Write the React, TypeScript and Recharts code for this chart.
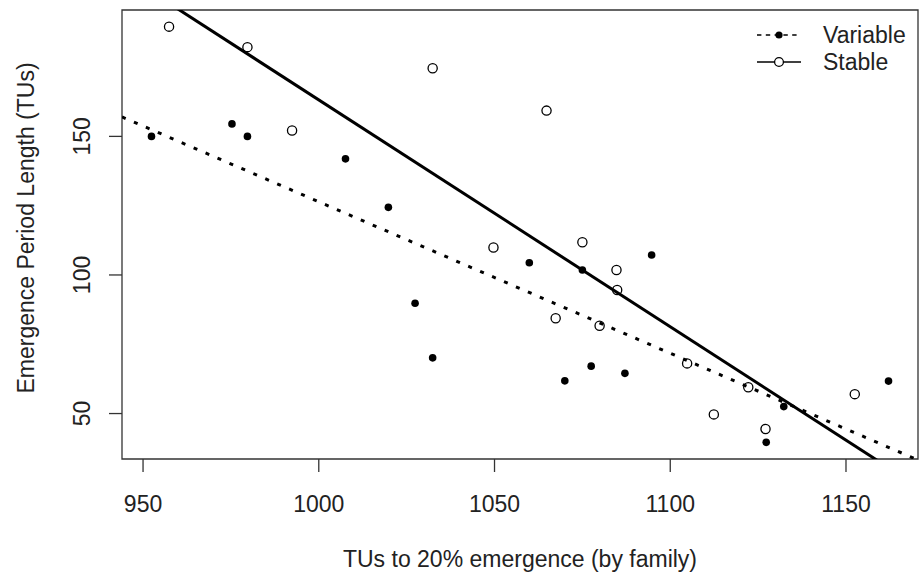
import React from "react";
import { ScatterChart, Scatter, XAxis, YAxis, ReferenceLine, ReferenceArea, Legend, Label } from "recharts";

// TUs to 20% emergence and emergence period length, one point per family
const variableTUs = [952.4, 975.3, 979.7, 1007.6, 1019.8, 1027.4, 1032.4, 1059.9, 1070.0, 1075.0, 1077.5, 1087.1, 1094.7, 1127.3, 1132.3, 1162.1];
const variableLength = [150.0, 154.5, 150.0, 141.9, 124.4, 89.8, 70.1, 104.4, 61.8, 101.8, 67.1, 64.5, 107.2, 39.6, 52.5, 61.7];

const stableTUs = [957.4, 979.7, 992.4, 1032.4, 1049.7, 1064.8, 1067.4, 1075.0, 1079.9, 1084.7, 1084.9, 1104.8, 1112.4, 1122.2, 1127.1, 1152.5];
const stableLength = [189.6, 182.2, 152.1, 174.6, 109.9, 159.3, 84.4, 111.8, 81.7, 101.8, 94.6, 68.1, 49.7, 59.5, 44.4, 57.0];

const seriesNames = ["Variable", "Stable"];
const xTicks = [950, 1000, 1050, 1100, 1150];
const yTicks = [50, 100, 150];

const FONT = "'Liberation Sans', Arial, Helvetica, sans-serif";
const TEXT = "#222";
const FS = 23;

const toPoints = (xs: number[], ys: number[]) => xs.map((x, i) => ({ x, y: ys[i] }));

// ordinary least squares, like abline(lm(y ~ x))
const fit = (xs: number[], ys: number[]) => {
  const n = xs.length;
  const mx = xs.reduce((s, v) => s + v, 0) / n;
  const my = ys.reduce((s, v) => s + v, 0) / n;
  let sxy = 0;
  let sxx = 0;
  xs.forEach((x, i) => {
    sxy += (x - mx) * (ys[i] - my);
    sxx += (x - mx) * (x - mx);
  });
  const b = sxy / sxx;
  return { a: my - b * mx, b };
};

// base graphics pads the data range by 4% on each side
const padRange = (vals: number[]): [number, number] => {
  const lo = Math.min(...vals);
  const hi = Math.max(...vals);
  const d = (hi - lo) * 0.04;
  return [lo - d, hi + d];
};

const variableData = toPoints(variableTUs, variableLength);
const stableData = toPoints(stableTUs, stableLength);
const xDomain = padRange([...variableTUs, ...stableTUs]);
const yDomain = padRange([...variableLength, ...stableLength]);

const fitSegment = (xs: number[], ys: number[]) => {
  const { a, b } = fit(xs, ys);
  return [
    { x: xDomain[0], y: a + b * xDomain[0] },
    { x: xDomain[1], y: a + b * xDomain[1] },
  ];
};

const FilledDot = (props: any) => <circle cx={props.cx} cy={props.cy} r={3.8} fill="#000" />;
const OpenDot = (props: any) => (
  <circle cx={props.cx} cy={props.cy} r={4.6} fill="none" stroke="#000" strokeWidth={1.3} />
);

const XTick = (props: any) => (
  <text x={props.x} y={511.5} textAnchor="middle" fontSize={FS} fontFamily={FONT} fill={TEXT}>
    {props.payload.value}
  </text>
);

const YTick = (props: any) => (
  <text
    x={90}
    y={props.y}
    transform={`rotate(-90 90 ${props.y})`}
    textAnchor="middle"
    fontSize={FS}
    fontFamily={FONT}
    fill={TEXT}
  >
    {props.payload.value}
  </text>
);

const renderLegend = () => (
  <svg width={170} height={60}>
    <line x1={5} x2={49} y1={17} y2={17} stroke="#000" strokeWidth={1.6} strokeDasharray="4.4 4.4" />
    <circle cx={27} cy={17} r={3.6} fill="#000" />
    <text x={71} y={25.3} fontSize={FS} fontFamily={FONT} fill={TEXT}>
      {seriesNames[0]}
    </text>
    <line x1={5} x2={49} y1={44} y2={44} stroke="#000" strokeWidth={1.6} />
    <circle cx={27} cy={44} r={4.4} fill="#fff" stroke="#000" strokeWidth={1.3} />
    <text x={71} y={51.5} fontSize={FS} fontFamily={FONT} fill={TEXT}>
      {seriesNames[1]}
    </text>
  </svg>
);

export default function App() {
  return (
    <div style={{ position: "absolute", left: 0, top: 0, width: 920, height: 577, background: "#fff" }}>
      <ScatterChart width={920} height={577} margin={{ top: 10, right: 2, bottom: 0, left: 0 }}>
        <XAxis
          type="number"
          dataKey="x"
          domain={xDomain}
          ticks={xTicks}
          axisLine={false}
          tickLine={{ stroke: "#333", strokeWidth: 1.3 }}
          tickSize={13}
          tick={<XTick />}
          height={118}
        >
          <Label
            content={() => (
              <text x={520} y={567} textAnchor="middle" fontSize={FS} fontFamily={FONT} fill={TEXT}>
                TUs to 20% emergence (by family)
              </text>
            )}
          />
        </XAxis>
        <YAxis
          type="number"
          dataKey="y"
          domain={yDomain}
          ticks={yTicks}
          axisLine={false}
          tickLine={{ stroke: "#333", strokeWidth: 1.3 }}
          tickSize={13}
          tick={<YTick />}
          width={122}
        >
          <Label
            content={() => (
              <text
                x={33.5}
                y={228}
                transform="rotate(-90 33.5 228)"
                textAnchor="middle"
                fontSize={FS}
                fontFamily={FONT}
                fill={TEXT}
              >
                Emergence Period Length (TUs)
              </text>
            )}
          />
        </YAxis>
        <Scatter name={seriesNames[0]} data={variableData} shape={<FilledDot />} isAnimationActive={false} />
        <Scatter name={seriesNames[1]} data={stableData} shape={<OpenDot />} isAnimationActive={false} />
        <ReferenceLine
          segment={fitSegment(variableTUs, variableLength)}
          stroke="#000"
          strokeWidth={3}
          strokeDasharray="4 9"
          ifOverflow="hidden"
        />
        <ReferenceLine
          segment={fitSegment(stableTUs, stableLength)}
          stroke="#000"
          strokeWidth={3}
          ifOverflow="hidden"
        />
        <ReferenceArea
          x1={xDomain[0]}
          x2={xDomain[1]}
          y1={yDomain[0]}
          y2={yDomain[1]}
          fill="none"
          fillOpacity={0}
          stroke="#333"
          strokeWidth={1.3}
          ifOverflow="visible"
        />
        <Legend
          layout="horizontal"
          verticalAlign="middle"
          align="center"
          content={renderLegend}
          wrapperStyle={{ left: 752, top: 18, width: 170, height: 60 }}
        />
      </ScatterChart>
    </div>
  );
}
